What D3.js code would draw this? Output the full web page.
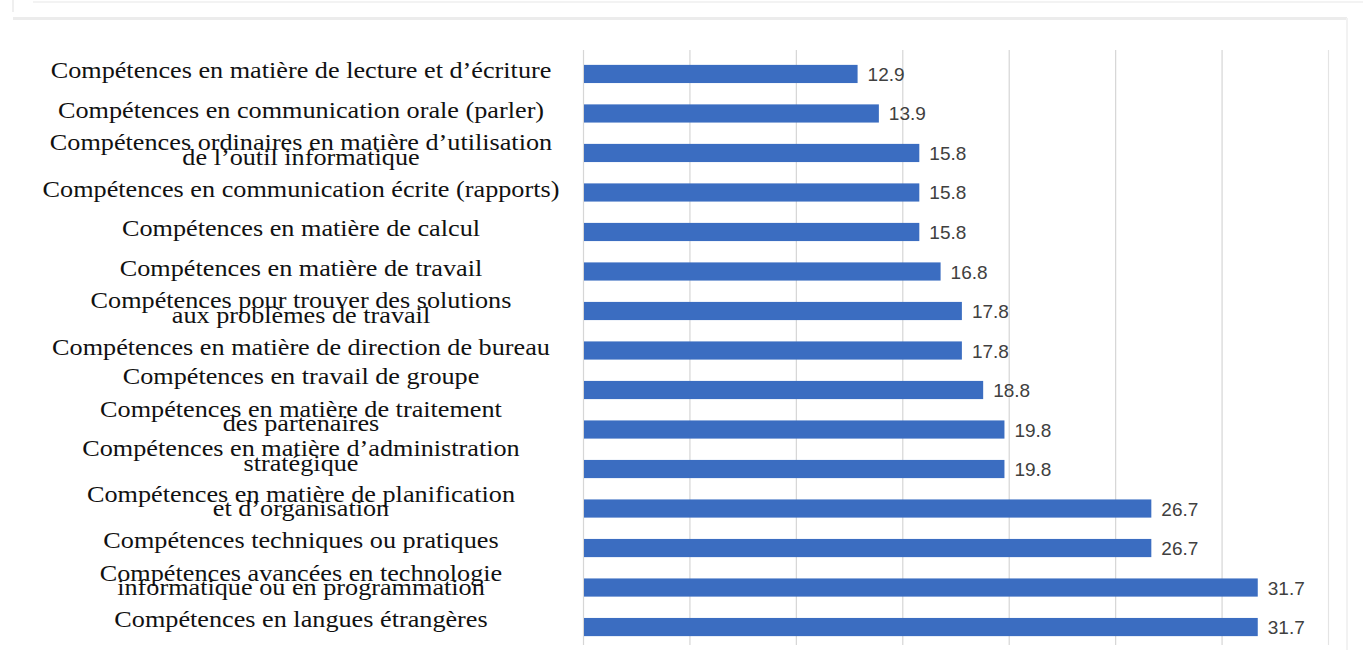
<!DOCTYPE html>
<html>
<head>
<meta charset="utf-8">
<script src="https://cdn.jsdelivr.net/npm/d3@7"></script>
<style>
  html, body { margin: 0; padding: 0; background: #fff; }
  svg { display: block; }
</style>
</head>
<body>
<svg id="chart" width="1363" height="650"></svg>
<script>
// Categories (each entry is a list of label lines), top to bottom
const categories = [
  ["Compétences en matière de lecture et d’écriture"],
  ["Compétences en communication orale (parler)"],
  ["Compétences ordinaires en matière d’utilisation", "de l’outil informatique"],
  ["Compétences en communication écrite (rapports)"],
  ["Compétences en matière de calcul"],
  ["Compétences en matière de travail"],
  ["Compétences pour trouver des solutions", "aux problèmes de travail"],
  ["Compétences en matière de direction de bureau"],
  ["Compétences en travail de groupe"],
  ["Compétences en matière de traitement", "des partenaires"],
  ["Compétences en matière d’administration", "stratégique"],
  ["Compétences en matière de planification", "et d’organisation"],
  ["Compétences techniques ou pratiques"],
  ["Compétences avancées en technologie", "informatique ou en programmation"],
  ["Compétences en langues étrangères"]
];
const values = [12.9, 13.9, 15.8, 15.8, 15.8, 16.8, 17.8, 17.8, 18.8, 19.8, 19.8, 26.7, 26.7, 31.7, 31.7];
const gridTicks = [0, 5, 10, 15, 20, 25, 30, 35];

const svg = d3.select("#chart");

// faint frame at top
svg.append("line").attr("x1", 13).attr("x2", 1347).attr("y1", 18.5).attr("y2", 18.5)
  .attr("stroke", "#ececec").attr("stroke-width", 3);
svg.append("line").attr("x1", 1347).attr("x2", 1347).attr("y1", 18).attr("y2", 650)
  .attr("stroke", "#f2f2f2").attr("stroke-width", 2);
svg.append("line").attr("x1", 33).attr("x2", 1363).attr("y1", 2).attr("y2", 2)
  .attr("stroke", "#f3f3f3").attr("stroke-width", 2);
svg.append("line").attr("x1", 13).attr("x2", 13).attr("y1", 0).attr("y2", 12)
  .attr("stroke", "#efefef").attr("stroke-width", 2);

const x = d3.scaleLinear().domain([0, 35]).range([583, 1328]);
const idx = d3.range(categories.length);
const y = d3.scaleBand().domain(idx).range([55, 646]).paddingInner(0.54).paddingOuter(0.25);

// gridlines
svg.append("g").selectAll("line").data(gridTicks).join("line")
  .attr("x1", d => x(d) + 0.5).attr("x2", d => x(d) + 0.5)
  .attr("y1", 50).attr("y2", 645)
  .attr("stroke", d => d === 35 ? "#e4e4e4" : "#d6d6d6").attr("stroke-width", 1.2);

// bars
svg.append("g").selectAll("rect").data(values).join("rect")
  .attr("x", x(0) + 1)
  .attr("y", (d, i) => y(i))
  .attr("width", d => x(d) - x(0) - 1)
  .attr("height", y.bandwidth())
  .attr("fill", "#3b6dc1");

// value labels
svg.append("g").selectAll("text").data(values).join("text")
  .attr("x", d => x(d) + 10)
  .attr("y", (d, i) => y(i) + y.bandwidth() / 2 + 2)
  .attr("dominant-baseline", "middle")
  .attr("font-family", "Liberation Sans, Arial, sans-serif")
  .attr("font-size", 19)
  .attr("fill", "#404040")
  .text(d => d.toFixed(1));

// category labels (pasted-in label block, slightly offset from bar rows)
function labelShift(i) {
  if (i < 8) return -1;
  if (i <= 10) return -11;
  return -5;
}
const lab = svg.append("g").selectAll("text").data(categories).join("text")
  .attr("text-anchor", "middle")
  .attr("font-family", "Liberation Serif, Times New Roman, serif")
  .attr("font-size", 23)
  .attr("fill", "#111")
  .attr("transform", (d, i) => {
    const cy = y(i) + y.bandwidth() / 2 + labelShift(i);
    return `translate(301,${cy}) scale(1.14,1)`;
  });
lab.each(function(d) {
  const t = d3.select(this);
  const n = d.length;
  const lh = 14.5;
  d.forEach((line, k) => {
    t.append("tspan")
      .attr("x", 0)
      .attr("y", (k - (n - 1) / 2) * lh)
      .attr("dominant-baseline", "middle")
      .text(line);
  });
});
</script>
</body>
</html>
